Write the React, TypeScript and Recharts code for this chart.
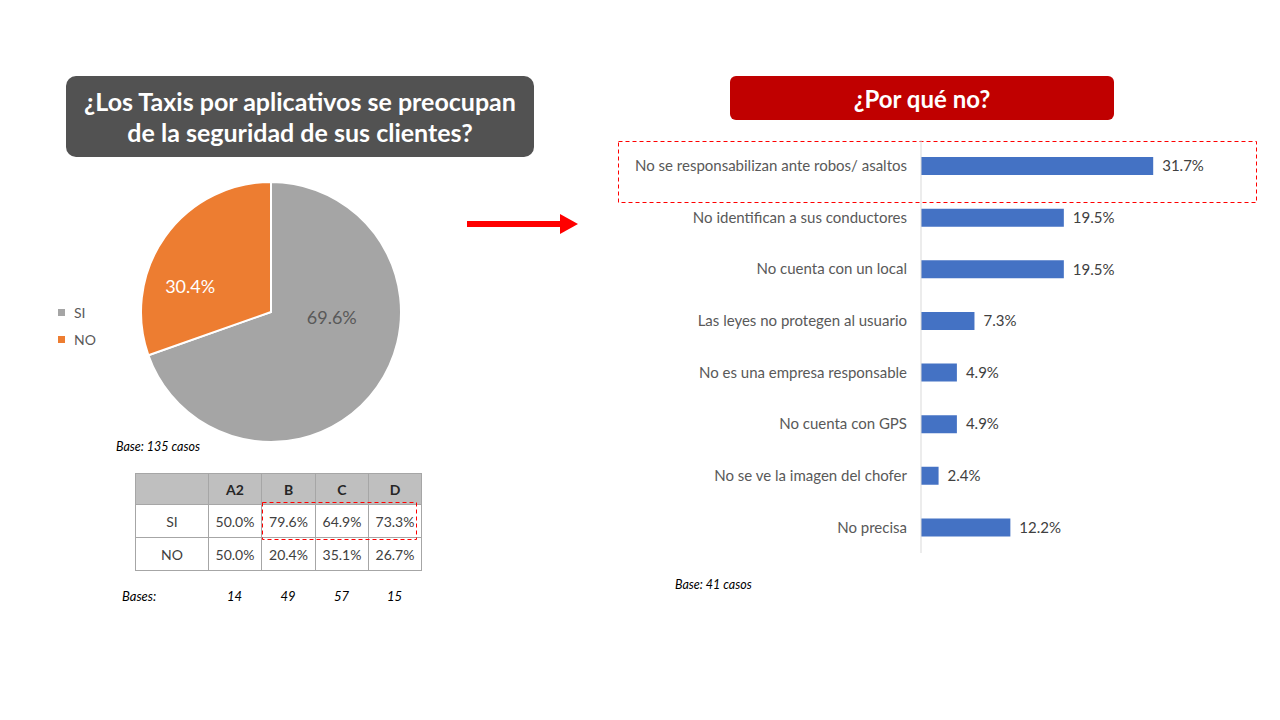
import React from 'react';
import { PieChart, Pie, Cell, BarChart, Bar, XAxis, YAxis, LabelList } from 'recharts';

// Pie: ¿se preocupan por la seguridad?
const pieNames = ['SI', 'NO'];
const pieValues = [69.6, 30.4];
const pieColors = ['#A5A5A5', '#ED7D31'];

// Table by segment
const segments = ['A2', 'B', 'C', 'D'];
const siBySegment = [50.0, 79.6, 64.9, 73.3];
const noBySegment = [50.0, 20.4, 35.1, 26.7];
const segmentBases = [14, 49, 57, 15];

// Bars: ¿Por qué no?
const reasons = [
  'No se responsabilizan ante robos/ asaltos',
  'No identifican a sus conductores',
  'No cuenta con un local',
  'Las leyes no protegen al usuario',
  'No es una empresa responsable',
  'No cuenta con GPS',
  'No se ve la imagen del chofer',
  'No precisa',
];
const reasonValues = [31.7, 19.5, 19.5, 7.3, 4.9, 4.9, 2.4, 12.2];

const FONT = 'Lato, "Open Sans", sans-serif';
const pct = (v: number) => `${v.toFixed(1)}%`;

// Excel "best fit" label spots, polar from the pie centre (deg, px)
const pieLabelSpots = [
  { angle: -5, r: 61 },
  { angle: 162, r: 85 },
];

function PieLabel(props: any) {
  const { cx, cy, index, value } = props;
  const spot = pieLabelSpots[index];
  const rad = (spot.angle * Math.PI) / 180;
  const x = cx + spot.r * Math.cos(rad);
  const y = cy - spot.r * Math.sin(rad);
  return (
    <text x={x} y={y} textAnchor="middle" dominantBaseline="central" fontSize={18} fontFamily={FONT}
      fill={index === 0 ? '#595959' : '#FFFFFF'}>
      {pct(value)}
    </text>
  );
}

export default function App() {
  const pieData = pieNames.map((name, i) => ({ name, value: pieValues[i] }));
  const barData = reasons.map((reason, i) => ({ reason, value: reasonValues[i] }));

  const cellStyle: React.CSSProperties = {
    border: '1px solid #A6A6A6',
    textAlign: 'center',
    padding: 0,
    fontSize: 14,
    color: '#404040',
  };
  const colWidths = [73, 53, 54, 53, 53];
  const colLefts = colWidths.map((_, i) => 135 + colWidths.slice(0, i).reduce((a, c) => a + c, 0));

  return (
    <div style={{ position: 'fixed', left: 0, top: 0, width: 1280, height: 720, background: '#fff', overflow: 'hidden', fontFamily: FONT }}>
      {/* left title */}
      <div style={{
        position: 'absolute', left: 66, top: 76, width: 468, height: 81, background: '#525252', borderRadius: 10,
        color: '#fff', fontWeight: 700, fontSize: 25, lineHeight: '31px', textAlign: 'center',
        display: 'flex', alignItems: 'center', justifyContent: 'center',
      }}>
        <div>¿Los Taxis por aplicativos se preocupan<br />de la seguridad de sus clientes?</div>
      </div>

      {/* pie */}
      <div style={{ position: 'absolute', left: 130, top: 170 }}>
        <PieChart width={290} height={290} margin={{ top: 0, right: 0, bottom: 0, left: 0 }}>
          <Pie data={pieData} dataKey="value" nameKey="name" cx={141} cy={142} outerRadius={130}
            startAngle={90} endAngle={-270} stroke="#fff" strokeWidth={2}
            label={PieLabel} labelLine={false} isAnimationActive={false}>
            {pieData.map((d, i) => <Cell key={d.name} fill={pieColors[i]} />)}
          </Pie>
        </PieChart>
      </div>

      {/* pie legend */}
      {pieNames.map((name, i) => (
        <div key={name} style={{ position: 'absolute', left: 58, top: 304 + i * 27, display: 'flex', alignItems: 'center', fontSize: 14, color: '#595959' }}>
          <span style={{ width: 7, height: 7, background: pieColors[i], display: 'inline-block', marginRight: 9 }} />
          {name}
        </div>
      ))}

      <div style={{ position: 'absolute', left: 116, top: 439, fontSize: 12.5, fontStyle: 'italic', color: '#000' }}>Base: 135 casos</div>

      {/* segment table */}
      <table style={{ position: 'absolute', left: 135, top: 473, borderCollapse: 'collapse', tableLayout: 'fixed', width: 287, fontFamily: FONT }}>
        <colgroup>
          {colWidths.map((w, i) => <col key={i} style={{ width: w }} />)}
        </colgroup>
        <tbody>
          <tr style={{ height: 31, background: '#BFBFBF' }}>
            <td style={cellStyle} />
            {segments.map(s => (
              <td key={s} style={{ ...cellStyle, fontWeight: 700, color: '#262626' }}>{s}</td>
            ))}
          </tr>
          <tr style={{ height: 33 }}>
            <td style={cellStyle}>SI</td>
            {siBySegment.map((v, i) => <td key={i} style={cellStyle}>{pct(v)}</td>)}
          </tr>
          <tr style={{ height: 33 }}>
            <td style={cellStyle}>NO</td>
            {noBySegment.map((v, i) => <td key={i} style={cellStyle}>{pct(v)}</td>)}
          </tr>
        </tbody>
      </table>
      <svg style={{ position: 'absolute', left: 0, top: 0, pointerEvents: 'none' }} width={1280} height={720}>
        <rect x={262.5} y={502.5} width={154} height={37} fill="none" stroke="#FF0000" strokeWidth={1} strokeDasharray="4 3" />
        <rect x={618.5} y={141.5} width={638} height={61} fill="none" stroke="#FF0000" strokeWidth={1} strokeDasharray="4 3" />
        {/* arrow */}
        <rect x={467} y={221} width={95} height={6} fill="#FF0000" />
        <polygon points="560,214 578,224 560,234" fill="#FF0000" />
      </svg>

      {/* bases row */}
      <div style={{ position: 'absolute', left: 122, top: 588, fontSize: 13, fontStyle: 'italic', color: '#000' }}>Bases:</div>
      {segmentBases.map((b, i) => (
        <div key={i} style={{ position: 'absolute', left: colLefts[i + 1], width: colWidths[i + 1], top: 588, textAlign: 'center', fontSize: 13, fontStyle: 'italic', color: '#000' }}>{b}</div>
      ))}

      {/* right title */}
      <div style={{
        position: 'absolute', left: 730, top: 76, width: 384, height: 44, background: '#C00000', borderRadius: 6,
        color: '#fff', fontWeight: 700, fontSize: 24, display: 'flex', alignItems: 'center', justifyContent: 'center',
      }}>¿Por qué no?</div>

      {/* bar chart */}
      <div style={{ position: 'absolute', left: 610, top: 130 }}>
        <BarChart width={620} height={440} data={barData} layout="vertical" barSize={18}
          margin={{ top: 10, right: 16, bottom: 17, left: 0 }}>
          <XAxis type="number" domain={[0, 40]} hide />
          <YAxis type="category" dataKey="reason" width={311} axisLine={{ stroke: '#D9D9D9' }} tickLine={false}
            tickSize={12} tickMargin={2} interval={0}
            tick={{ fill: '#595959', fontSize: 15, fontFamily: FONT }} />
          <Bar dataKey="value" fill="#4472C4" isAnimationActive={false}>
            <LabelList dataKey="value" position="right" offset={9} formatter={(v: any) => pct(Number(v))}
              style={{ fill: '#404040', fontSize: 15, fontFamily: FONT }} />
          </Bar>
        </BarChart>
      </div>

      <div style={{ position: 'absolute', left: 675, top: 577, fontSize: 12.5, fontStyle: 'italic', color: '#000' }}>Base: 41 casos</div>
    </div>
  );
}
